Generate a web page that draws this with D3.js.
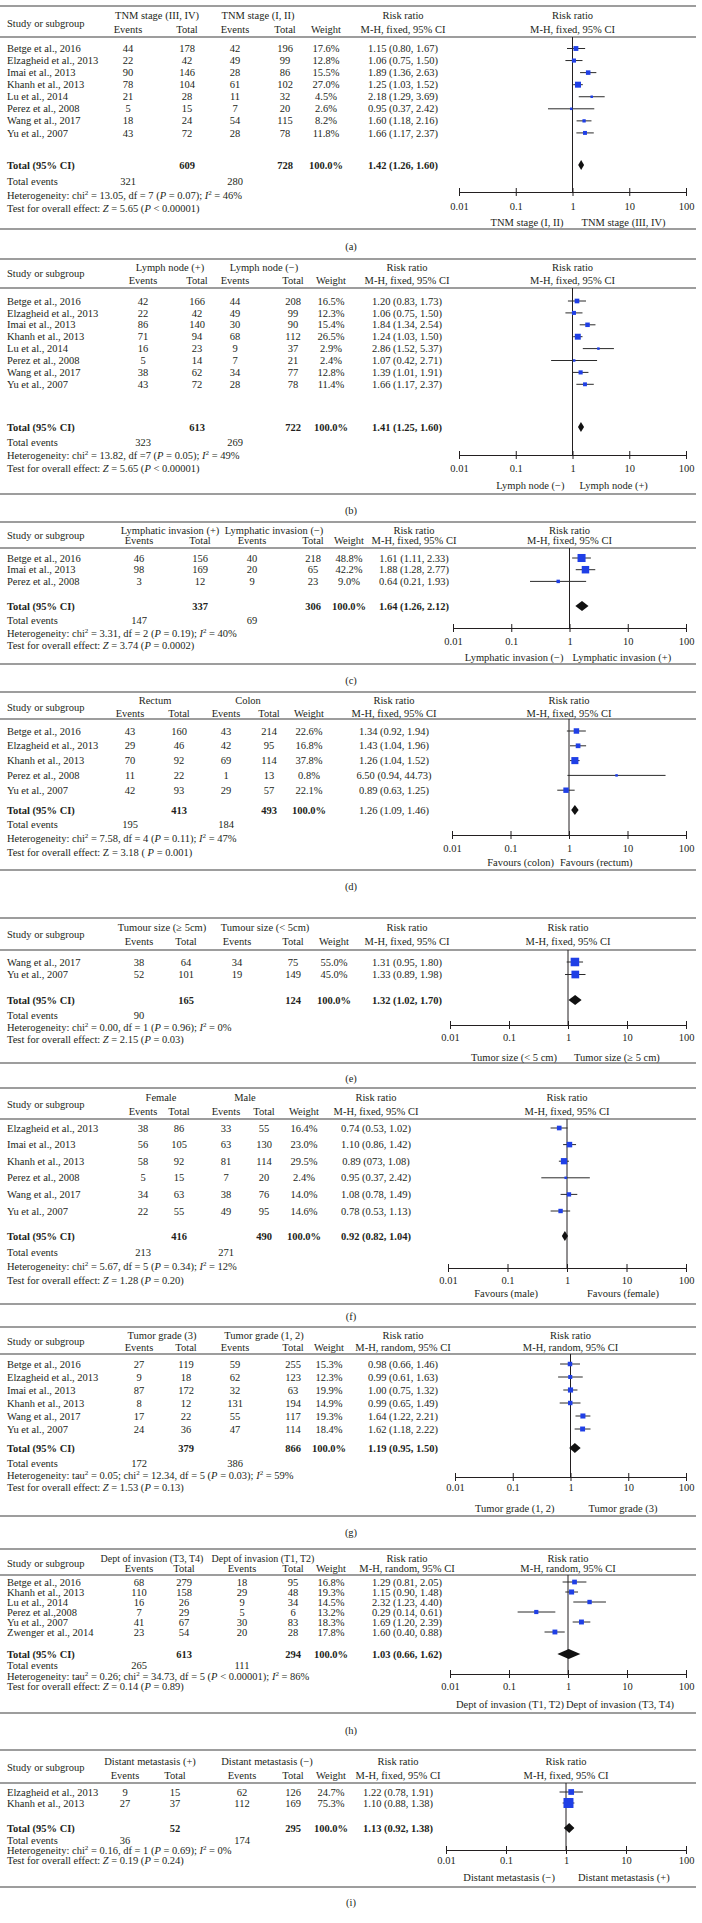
<!DOCTYPE html>
<html><head><meta charset="utf-8">
<script src="https://cdn.jsdelivr.net/npm/d3@7"></script>
<style>html,body{margin:0;padding:0;background:#fff;} svg{display:block;}</style>
</head><body><div id="chart"></div>
<script>
// ---------------- DATA ----------------
const groupPlus = ["TNM stage (III, IV)","Lymph node (+)","Lymphatic invasion (+)","Rectum","Tumour size (≥ 5cm)","Female","Tumor grade (3)","Dept of invasion (T3, T4)","Distant metastasis (+)"];
const groupMinus = ["TNM stage (I, II)","Lymph node (−)","Lymphatic invasion (−)","Colon","Tumour size (< 5cm)","Male","Tumor grade (1, 2)","Dept of invasion (T1, T2)","Distant metastasis (−)"];
const methods = ["M-H, fixed, 95% CI","M-H, fixed, 95% CI","M-H, fixed, 95% CI","M-H, fixed, 95% CI","M-H, fixed, 95% CI","M-H, fixed, 95% CI","M-H, random, 95% CI","M-H, random, 95% CI","M-H, fixed, 95% CI"];
const sideLeft = ["TNM stage (I, II)","Lymph node (−)","Lymphatic invasion (−)","Favours (colon)","Tumor size (< 5 cm)","Favours (male)","Tumor grade (1, 2)","Dept of invasion (T1, T2)","Distant metastasis (−)"];
const sideRight = ["TNM stage (III, IV)","Lymph node (+)","Lymphatic invasion (+)","Favours (rectum)","Tumor size (≥ 5 cm)","Favours (female)","Tumor grade (3)","Dept of invasion (T3, T4)","Distant metastasis (+)"];
const captions = ["(a)","(b)","(c)","(d)","(e)","(f)","(g)","(h)","(i)"];
const tickValues = [0.01, 0.1, 1, 10, 100];
const tickLabels = ["0.01","0.1","1","10","100"];

const totalN1 = [609,613,337,413,165,416,379,613,52];
const totalN2 = [728,722,306,493,124,490,866,294,295];
const totalEv1 = ["321","323","147","195","90","213","172","265","36"];
const totalEv2 = ["280","269","69","184","","271","386","111","174"];
const pooledRR = [1.42,1.41,1.64,1.26,1.32,0.92,1.19,1.03,1.13];
const pooledLow = [1.26,1.25,1.26,1.09,1.02,0.82,0.95,0.66,0.92];
const pooledHigh = [1.60,1.60,2.12,1.46,1.70,1.04,1.50,1.62,1.38];
const pooledText = ["1.42 (1.26, 1.60)","1.41 (1.25, 1.60)","1.64 (1.26, 2.12)","1.26 (1.09, 1.46)","1.32 (1.02, 1.70)","0.92 (0.82, 1.04)","1.19 (0.95, 1.50)","1.03 (0.66, 1.62)","1.13 (0.92, 1.38)"];
const hetTexts = [
 "Heterogeneity: chi^2 = 13.05, df = 7 (_P_ = 0.07); _I_^2 = 46%",
 "Heterogeneity: chi^2 = 13.82, df =7 (_P_ = 0.05); _I_^2 = 49%",
 "Heterogeneity: chi^2 = 3.31, df = 2 (_P_ = 0.19); _I_^2 = 40%",
 "Heterogeneity: chi^2 = 7.58, df = 4 (_P_ = 0.11); _I_^2 = 47%",
 "Heterogeneity: chi^2 = 0.00, df = 1 (_P_ = 0.96); _I_^2 = 0%",
 "Heterogeneity: chi^2 = 5.67, df = 5 (_P_ = 0.34); _I_^2 = 12%",
 "Heterogeneity: tau^2 = 0.05; chi^2 = 12.34, df = 5 (_P_ = 0.03); _I_^2 = 59%",
 "Heterogeneity: tau^2 = 0.26; chi^2 = 34.73, df = 5 (_P_ < 0.00001); _I_^2 = 86%",
 "Heterogeneity: chi^2 = 0.16, df = 1 (_P_ = 0.69); _I_^2 = 0%"];
const testTexts = [
 "Test for overall effect: _Z_ = 5.65 (_P_ < 0.00001)",
 "Test for overall effect: _Z_ = 5.65 (_P_ < 0.00001)",
 "Test for overall effect: _Z_ = 3.74 (_P_ = 0.0002)",
 "Test for overall effect: Z = 3.18 ( _P_ = 0.001)",
 "Test for overall effect: _Z_ = 2.15 (_P_ = 0.03)",
 "Test for overall effect: _Z_ = 1.28 (_P_ = 0.20)",
 "Test for overall effect: _Z_ = 1.53 (_P_ = 0.13)",
 "Test for overall effect: _Z_ = 0.14 (_P_ = 0.89)",
 "Test for overall effect: _Z_ = 0.19 (_P_ = 0.24)"];

// (a) TNM stage
const aStudies = ["Betge et al., 2016","Elzagheid et al., 2013","Imai et al., 2013","Khanh et al., 2013","Lu et al., 2014","Perez et al., 2008","Wang et al., 2017","Yu et al., 2007"];
const aEv1 = [44,22,90,78,21,5,18,43], aN1 = [178,42,146,104,28,15,24,72];
const aEv2 = [42,49,28,61,11,7,54,28], aN2 = [196,99,86,102,32,20,115,78];
const aW = [17.6,12.8,15.5,27.0,4.5,2.6,8.2,11.8];
const aRR = [1.15,1.06,1.89,1.25,2.18,0.95,1.60,1.66];
const aLo = [0.80,0.75,1.36,1.03,1.29,0.37,1.18,1.17];
const aHi = [1.67,1.50,2.63,1.52,3.69,2.42,2.16,2.37];
const aCI = ["1.15 (0.80, 1.67)","1.06 (0.75, 1.50)","1.89 (1.36, 2.63)","1.25 (1.03, 1.52)","2.18 (1.29, 3.69)","0.95 (0.37, 2.42)","1.60 (1.18, 2.16)","1.66 (1.17, 2.37)"];
// (b) Lymph node
const bStudies = ["Betge et al., 2016","Elzagheid et al., 2013","Imai et al., 2013","Khanh et al., 2013","Lu et al., 2014","Perez et al., 2008","Wang et al., 2017","Yu et al., 2007"];
const bEv1 = [42,22,86,71,16,5,38,43], bN1 = [166,42,140,94,23,14,62,72];
const bEv2 = [44,49,30,68,9,7,34,28], bN2 = [208,99,90,112,37,21,77,78];
const bW = [16.5,12.3,15.4,26.5,2.9,2.4,12.8,11.4];
const bRR = [1.20,1.06,1.84,1.24,2.86,1.07,1.39,1.66];
const bLo = [0.83,0.75,1.34,1.03,1.52,0.42,1.01,1.17];
const bHi = [1.73,1.50,2.54,1.50,5.37,2.71,1.91,2.37];
const bCI = ["1.20 (0.83, 1.73)","1.06 (0.75, 1.50)","1.84 (1.34, 2.54)","1.24 (1.03, 1.50)","2.86 (1.52, 5.37)","1.07 (0.42, 2.71)","1.39 (1.01, 1.91)","1.66 (1.17, 2.37)"];
// (c) Lymphatic invasion
const cStudies = ["Betge et al., 2016","Imai et al., 2013","Perez et al., 2008"];
const cEv1 = [46,98,3], cN1 = [156,169,12], cEv2 = [40,20,9], cN2 = [218,65,23];
const cW = [48.8,42.2,9.0];
const cRR = [1.61,1.88,0.64], cLo = [1.11,1.28,0.21], cHi = [2.33,2.77,1.93];
const cCI = ["1.61 (1.11, 2.33)","1.88 (1.28, 2.77)","0.64 (0.21, 1.93)"];
// (d) Rectum vs colon
const dStudies = ["Betge et al., 2016","Elzagheid et al., 2013","Khanh et al., 2013","Perez et al., 2008","Yu et al., 2007"];
const dEv1 = [43,29,70,11,42], dN1 = [160,46,92,22,93], dEv2 = [43,42,69,1,29], dN2 = [214,95,114,13,57];
const dW = [22.6,16.8,37.8,0.8,22.1];
const dRR = [1.34,1.43,1.26,6.50,0.89], dLo = [0.92,1.04,1.04,0.94,0.63], dHi = [1.94,1.96,1.52,44.73,1.25];
const dCI = ["1.34 (0.92, 1.94)","1.43 (1.04, 1.96)","1.26 (1.04, 1.52)","6.50 (0.94, 44.73)","0.89 (0.63, 1.25)"];
// (e) Tumour size
const eStudies = ["Wang et al., 2017","Yu et al., 2007"];
const eEv1 = [38,52], eN1 = [64,101], eEv2 = [34,19], eN2 = [75,149];
const eW = [55.0,45.0];
const eRR = [1.31,1.33], eLo = [0.95,0.89], eHi = [1.80,1.98];
const eCI = ["1.31 (0.95, 1.80)","1.33 (0.89, 1.98)"];
// (f) Sex
const fStudies = ["Elzagheid et al., 2013","Imai et al., 2013","Khanh et al., 2013","Perez et al., 2008","Wang et al., 2017","Yu et al., 2007"];
const fEv1 = [38,56,58,5,34,22], fN1 = [86,105,92,15,63,55], fEv2 = [33,63,81,7,38,49], fN2 = [55,130,114,20,76,95];
const fW = [16.4,23.0,29.5,2.4,14.0,14.6];
const fRR = [0.74,1.10,0.89,0.95,1.08,0.78], fLo = [0.53,0.86,0.73,0.37,0.78,0.53], fHi = [1.02,1.42,1.08,2.42,1.49,1.13];
const fCI = ["0.74 (0.53, 1.02)","1.10 (0.86, 1.42)","0.89 (073, 1.08)","0.95 (0.37, 2.42)","1.08 (0.78, 1.49)","0.78 (0.53, 1.13)"];
// (g) Tumor grade
const gStudies = ["Betge et al., 2016","Elzagheid et al., 2013","Imai et al., 2013","Khanh et al., 2013","Wang et al., 2017","Yu et al., 2007"];
const gEv1 = [27,9,87,8,17,24], gN1 = [119,18,172,12,22,36], gEv2 = [59,62,32,131,55,47], gN2 = [255,123,63,194,117,114];
const gW = [15.3,12.3,19.9,14.9,19.3,18.4];
const gRR = [0.98,0.99,1.00,0.99,1.64,1.62], gLo = [0.66,0.61,0.75,0.65,1.22,1.18], gHi = [1.46,1.63,1.32,1.49,2.21,2.22];
const gCI = ["0.98 (0.66, 1.46)","0.99 (0.61, 1.63)","1.00 (0.75, 1.32)","0.99 (0.65, 1.49)","1.64 (1.22, 2.21)","1.62 (1.18, 2.22)"];
// (h) Depth of invasion
const hStudies = ["Betge et al., 2016","Khanh et al., 2013","Lu et al., 2014","Perez et al.,2008","Yu et al., 2007","Zwenger et al., 2014"];
const hEv1 = [68,110,16,7,41,23], hN1 = [279,158,26,29,67,54], hEv2 = [18,29,9,5,30,20], hN2 = [95,48,34,6,83,28];
const hW = [16.8,19.3,14.5,13.2,18.3,17.8];
const hRR = [1.29,1.15,2.32,0.29,1.69,0.60], hLo = [0.81,0.90,1.23,0.14,1.20,0.40], hHi = [2.05,1.48,4.40,0.61,2.39,0.88];
const hCI = ["1.29 (0.81, 2.05)","1.15 (0.90, 1.48)","2.32 (1.23, 4.40)","0.29 (0.14, 0.61)","1.69 (1.20, 2.39)","1.60 (0.40, 0.88)"];
// (i) Distant metastasis
const iStudies = ["Elzagheid et al., 2013","Khanh et al., 2013"];
const iEv1 = [9,27], iN1 = [15,37], iEv2 = [62,112], iN2 = [126,169];
const iW = [24.7,75.3];
const iRR = [1.22,1.10], iLo = [0.78,0.88], iHi = [1.91,1.38];
const iCI = ["1.22 (0.78, 1.91)","1.10 (0.88, 1.38)"];

const panelRows = [
 [aStudies,aEv1,aN1,aEv2,aN2,aW,aRR,aLo,aHi,aCI],
 [bStudies,bEv1,bN1,bEv2,bN2,bW,bRR,bLo,bHi,bCI],
 [cStudies,cEv1,cN1,cEv2,cN2,cW,cRR,cLo,cHi,cCI],
 [dStudies,dEv1,dN1,dEv2,dN2,dW,dRR,dLo,dHi,dCI],
 [eStudies,eEv1,eN1,eEv2,eN2,eW,eRR,eLo,eHi,eCI],
 [fStudies,fEv1,fN1,fEv2,fN2,fW,fRR,fLo,fHi,fCI],
 [gStudies,gEv1,gN1,gEv2,gN2,gW,gRR,gLo,gHi,gCI],
 [hStudies,hEv1,hN1,hEv2,hN2,hW,hRR,hLo,hHi,hCI],
 [iStudies,iEv1,iN1,iEv2,iN2,iW,iRR,iLo,iHi,iCI]];

// ---------------- LAYOUT (positions only) ----------------
const W = 702, H = 1923;
const FONT = "'Liberation Serif','Times New Roman',serif";
const FS = 10.5;
const layout = [
 {top:6,   h1:15,  st:23,  sub:29,  rule:37,  row0:48.5, pitch:12.06, total:165, ev:181, het:195, test:208, axis:192, tick:206, side:222, br:229, cap:246},
 {top:259, h1:267, st:273, sub:280, rule:288, row0:301, pitch:11.9, total:427, ev:442, het:455, test:468, axis:455, tick:468, side:485, br:494, cap:510},
 {top:522, h1:530, st:535, sub:540, rule:548, row0:558, pitch:11.7, total:606, ev:620, het:633, test:645, axis:628, tick:641, side:657, br:664, cap:680},
 {top:692, h1:700, st:707, sub:713, rule:719, row0:731, pitch:14.8, total:810, ev:824, het:838, test:852, axis:835, tick:848, side:862, br:870, cap:886},
 {top:918, h1:927, st:934, sub:941, rule:950, row0:962, pitch:12.5, total:1000, ev:1015, het:1027, test:1039, axis:1025, tick:1037, side:1057, br:1063, cap:1078},
 {top:1088,h1:1097,st:1104,sub:1111,rule:1119,row0:1128,pitch:16.6, total:1236, ev:1252, het:1266, test:1280, axis:1268, tick:1280, side:1293, br:1304, cap:1316},
 {top:1327,h1:1335,st:1341,sub:1347,rule:1354,row0:1364,pitch:13, total:1448, ev:1463, het:1475, test:1487, axis:1477, tick:1487, side:1508, br:1516, cap:1532},
 {top:1549,h1:1558,st:1563,sub:1568,rule:1575,row0:1582,pitch:10, total:1654, ev:1665, het:1676, test:1686, axis:1674, tick:1686, side:1704, br:1713, cap:1730},
 {top:1750,h1:1761,st:1767,sub:1775,rule:1783,row0:1792,pitch:11, total:1828, ev:1840, het:1850, test:1860, axis:1850, tick:1860, side:1877, br:1887, cap:1902}];
const cols = [
 [128,187,235,285,326,403],
 [143,197,235,293,331,407],
 [139,200,252,313,349,414],
 [130,179,226,269,309,394],
 [139,186,237,293,334,407],
 [143,179,226,264,304,376],
 [139,186,235,293,329,403],
 [139,184,242,293,331,407],
 [125,175,242,293,331,398]];
const groupCenters = [[157,258],[170,264],[170,274],[155,248],[162,265],[161,245],[162,264],[152,263],[150,267]];
const axisLeft = [459,459,453,452,450,448,455,450,446];
const axisRight = 686;
const sideGaps = [[9,9],[8,7],[6,3],[15,-9],[11,6],[29,20],[16,18],[4,-2],[11,12]];

// ---------------- DRAW ----------------
const svg = d3.select("#chart").append("svg").attr("width", W).attr("height", H)
  .attr("font-family", FONT).attr("font-size", FS).attr("fill", "#231f20");
svg.append("rect").attr("width", W).attr("height", H).attr("fill", "#fff");

const BASE = 3.6; // center -> baseline offset

function txt(g, s, x, y, anchor, bold) {
  return g.append("text").attr("x", x).attr("y", y + BASE)
    .attr("text-anchor", anchor || "middle")
    .attr("font-weight", bold ? "bold" : null).text(s);
}
function rich(g, s, x, y) {
  const t = g.append("text").attr("x", x).attr("y", y + BASE).attr("text-anchor", "start");
  const parts = s.split(/(_[^_]+_|\^\S)/).filter(p => p.length);
  let back = 0;
  parts.forEach(p => {
    let ts;
    if (p[0] === "_" && p.length > 2 && p[p.length-1] === "_") {
      ts = t.append("tspan").attr("font-style", "italic").text(p.slice(1, -1));
    } else if (p[0] === "^" && p.length === 2) {
      t.append("tspan").attr("font-size", 7).attr("dy", -4 + back).text(p.slice(1));
      back = 4; return;
    } else {
      ts = t.append("tspan").text(p);
    }
    if (back) { ts.attr("dy", back); back = 0; }
  });
  return t;
}
function hline(g, y) {
  g.append("line").attr("x1", 0).attr("x2", 696).attr("y1", y).attr("y2", y)
    .attr("stroke", "#7d7d7d").attr("stroke-width", 1.6);
}

layout.forEach((L, k) => {
  const g = svg.append("g");
  const c = cols[k];
  const [studies, ev1, n1, ev2, n2, w, rr, lo, hi, ci] = panelRows[k];
  const x = d3.scaleLog().domain([0.01, 100]).range([axisLeft[k], axisRight]);
  const x1 = x(1);

  hline(g, L.top); hline(g, L.rule); hline(g, L.br);

  txt(g, "Study or subgroup", 7, L.st, "start");
  const gh1 = txt(g, groupPlus[k], groupCenters[k][0], L.h1);
  const gh2 = txt(g, groupMinus[k], groupCenters[k][1], L.h1);
  if (k === 7) { gh1.attr("font-size", 10); gh2.attr("font-size", 10); }
  txt(g, "Events", c[0], L.sub); txt(g, "Total", c[1], L.sub);
  txt(g, "Events", c[2], L.sub); txt(g, "Total", c[3], L.sub);
  txt(g, "Weight", c[4], L.sub);
  txt(g, "Risk ratio", c[5], L.h1); txt(g, methods[k], c[5], L.sub);
  txt(g, "Risk ratio", x1, L.h1); txt(g, methods[k], x1, L.sub);

  g.append("line").attr("x1", x1).attr("x2", x1).attr("y1", L.rule).attr("y2", L.axis)
    .attr("stroke", "#231f20").attr("stroke-width", 1);

  studies.forEach((s, j) => {
    const y = L.row0 + j * L.pitch;
    txt(g, s, 7, y, "start");
    txt(g, String(ev1[j]), c[0], y); txt(g, String(n1[j]), c[1], y);
    txt(g, String(ev2[j]), c[2], y); txt(g, String(n2[j]), c[3], y);
    txt(g, w[j].toFixed(1) + "%", c[4], y);
    txt(g, ci[j], c[5], y);
    g.append("line").attr("x1", x(lo[j])).attr("x2", x(hi[j])).attr("y1", y).attr("y2", y)
      .attr("stroke", "#2b2b2b").attr("stroke-width", 1);
    const sz = Math.max(2.5, 1.15 * Math.sqrt(w[j]));
    g.append("rect").attr("x", x(rr[j]) - sz / 2).attr("y", y - sz / 2)
      .attr("width", sz).attr("height", sz).attr("fill", "#1f3fe6");
  });

  txt(g, "Total (95% CI)", 7, L.total, "start", true);
  txt(g, String(totalN1[k]), c[1], L.total, "middle", true);
  txt(g, String(totalN2[k]), c[3], L.total, "middle", true);
  txt(g, "100.0%", c[4], L.total, "middle", true);
  txt(g, pooledText[k], c[5], L.total, "middle", k !== 3);
  const yT = L.total;
  g.append("path").attr("d", `M${x(pooledLow[k])},${yT} L${x(pooledRR[k])},${yT - 5} L${x(pooledHigh[k])},${yT} L${x(pooledRR[k])},${yT + 5} Z`)
    .attr("fill", "#111");

  txt(g, "Total events", 7, L.ev, "start");
  txt(g, totalEv1[k], c[0], L.ev); txt(g, totalEv2[k], c[2], L.ev);
  rich(g, hetTexts[k], 7, L.het);
  rich(g, testTexts[k], 7, L.test);

  const ax = d3.axisBottom(x).tickValues(tickValues).tickSizeInner(4).tickSizeOuter(0)
    .tickFormat((d, i) => tickLabels[i]);
  const ag = g.append("g").attr("transform", `translate(0,${L.axis})`).call(ax);
  ag.select(".domain").attr("stroke", "#231f20").attr("stroke-width", 1);
  ag.selectAll(".tick line").attr("y1", -4).attr("y2", 4).attr("stroke", "#231f20");
  ag.selectAll(".tick text").attr("y", L.tick - L.axis + BASE).attr("dy", null)
    .attr("font-family", FONT).attr("font-size", FS).attr("fill", "#231f20");

  txt(g, sideLeft[k], x1 - sideGaps[k][0], L.side, "end");
  txt(g, sideRight[k], x1 + sideGaps[k][1], L.side, "start");
  txt(g, captions[k], 351, L.cap);
});
</script></body></html>
